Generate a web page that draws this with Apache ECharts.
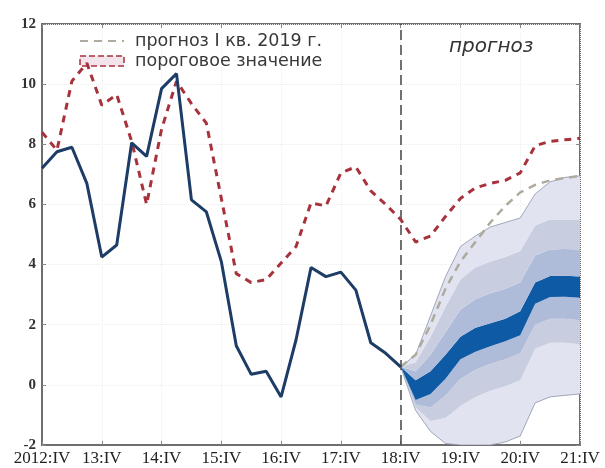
<!DOCTYPE html>
<html><head><meta charset="utf-8">
<script src="https://cdn.jsdelivr.net/npm/echarts@6/dist/echarts.min.js"></script>
<style>html,body{margin:0;padding:0;background:#fff}#c{width:605px;height:468px}</style>
</head><body><div id="c"></div>
<script>
// quarters 2012:IV .. 2021:IV
const categories = ['2012:IV',
 '13:I','13:II','13:III','13:IV',
 '14:I','14:II','14:III','14:IV',
 '15:I','15:II','15:III','15:IV',
 '16:I','16:II','16:III','16:IV',
 '17:I','17:II','17:III','17:IV',
 '18:I','18:II','18:III','18:IV',
 '19:I','19:II','19:III','19:IV',
 '20:I','20:II','20:III','20:IV',
 '21:I','21:II','21:III','21:IV'];
const yTicks = [-2, 0, 2, 4, 6, 8, 10, 12];
const forecastStart = '18:IV';

// actual values 2012:IV .. 18:IV
const actual = [7.2, 7.75, 7.9, 6.7, 4.25, 4.65, 8.05, 7.6, 9.85, 10.35, 6.15, 5.75, 4.1,
 1.3, 0.35, 0.45, -0.4, 1.5, 3.9, 3.6, 3.75, 3.15, 1.4, 1.05, 0.6];
// threshold 2012:IV .. 21:IV
const threshold = [8.4, 7.8, 10.1, 10.7, 9.3, 9.65, 8.1, 6.0, 8.5, 10.1, 9.35, 8.7, 6.2,
 3.7, 3.4, 3.5, 4.05, 4.6, 6.05, 5.95, 7.05, 7.25, 6.45, 6.0, 5.5,
 4.75, 4.95, 5.6, 6.2, 6.55, 6.7, 6.8, 7.05, 7.95, 8.1, 8.15, 8.2];
// forecast Q1 2019, 18:IV .. 21:IV
const forecastQ1 = [0.6, 1.0, 2.0, 3.2, 4.1, 4.75, 5.4, 5.95, 6.4, 6.65, 6.8, 6.88, 6.95];
// fan chart bounds, 18:IV .. 21:IV
const fanLo4 = [0.6, -0.85, -1.55, -1.95, -2.0, -2.0, -2.0, -1.9, -1.7, -0.6, -0.4, -0.35, -0.3];
const fanLo3 = [0.6, -0.75, -1.2, -1.1, -0.7, -0.4, -0.2, -0.05, 0.15, 1.2, 1.4, 1.4, 1.35];
const fanLo2 = [0.6, -0.65, -0.75, -0.35, 0.2, 0.5, 0.7, 0.85, 1.05, 2.0, 2.2, 2.2, 2.15];
const fanLo1 = [0.6, -0.5, -0.3, 0.2, 0.85, 1.1, 1.28, 1.45, 1.65, 2.7, 2.92, 2.93, 2.9];
const fanHi1 = [0.6, 0.15, 0.45, 1.0, 1.6, 1.9, 2.05, 2.2, 2.45, 3.4, 3.62, 3.63, 3.6];
const fanHi2 = [0.6, 0.45, 1.0, 1.75, 2.5, 2.85, 3.05, 3.2, 3.4, 4.3, 4.5, 4.52, 4.5];
const fanHi3 = [0.6, 0.75, 1.6, 2.6, 3.5, 3.9, 4.1, 4.25, 4.45, 5.3, 5.5, 5.5, 5.5];
const fanHi4 = [0.6, 1.0, 2.3, 3.6, 4.6, 4.95, 5.25, 5.4, 5.55, 6.35, 6.75, 6.9, 6.95];

const legendForecast = 'прогноз I кв. 2019 г.';
const legendThreshold = 'пороговое значение';
const forecastLabel = 'прогноз';

const offset = categories.indexOf(forecastStart);
const pad = arr => Array(offset).fill('-').concat(arr);
const diff = (lo, hi) => hi.map((v, i) => +(v - lo[i]).toFixed(3));

const bandColors = ['#e1e4f0', '#c9cde0', '#aebbd9', '#0f5aa5', '#aebbd9', '#c9cde0', '#e1e4f0'];
const bounds = [fanLo4, fanLo3, fanLo2, fanLo1, fanHi1, fanHi2, fanHi3, fanHi4];

const fanSeries = [{
  type: 'line', stack: 'fan', stackStrategy: 'all', data: pad(fanLo4), symbol: 'none', silent: true,
  lineStyle: { color: '#8d94aa', width: 0.8 }, z: 1
}];
for (let k = 0; k < 7; k++) {
  fanSeries.push({
    type: 'line', stack: 'fan', stackStrategy: 'all', data: pad(diff(bounds[k], bounds[k + 1])), symbol: 'none', silent: true,
    lineStyle: k === 6 ? { color: '#8d94aa', width: 0.8 } : { width: 0, opacity: 0 },
    areaStyle: { color: bandColors[k], opacity: 1 }, z: 1
  });
}

const chart = echarts.init(document.getElementById('c'), null, { renderer: 'canvas' });
chart.setOption({
  animation: false,
  backgroundColor: '#fff',
  title: {
    text: forecastLabel, left: 444, top: 32,
    textStyle: { fontFamily: 'DejaVu Sans', fontStyle: 'italic', fontWeight: 'normal', fontSize: 20, color: '#333' }
  },
  legend: {
    orient: 'vertical', left: 74, top: 27, itemWidth: 44, itemHeight: 10, itemGap: 2,
    textStyle: { fontFamily: 'DejaVu Sans', fontSize: 17.5, color: '#383838', padding: [0, 0, 0, 6] },
    data: [
      { name: legendForecast, itemStyle: { opacity: 0 } },
      { name: legendThreshold, icon: 'rect', itemStyle: { color: '#f3e3ea', borderColor: '#a8323c', borderWidth: 1.5, borderType: 'dashed' } }
    ]
  },
  grid: { left: 42, right: 25, top: 24, bottom: 23, show: true, borderColor: '#6e6e6e', borderWidth: 2 },
  xAxis: [{
    type: 'category', data: categories, boundaryGap: false,
    axisLine: { onZero: false, lineStyle: { color: '#6e6e6e', width: 2 } },
    axisTick: { inside: true, interval: 3, length: 4, lineStyle: { color: '#888' } },
    axisLabel: { interval: 3, margin: 5, fontFamily: 'Liberation Serif', fontSize: 17, color: '#222' },
    splitLine: { show: true, interval: 3, lineStyle: { color: '#eeeeee', type: 'dotted' } }
  }, {
    type: 'category', data: categories, boundaryGap: false, position: 'top',
    axisLine: { show: false, onZero: false },
    axisTick: { inside: true, interval: 3, length: 4, lineStyle: { color: '#888' } },
    axisLabel: { show: false }, splitLine: { show: false }
  }],
  yAxis: [{
    type: 'value', min: yTicks[0], max: yTicks[yTicks.length - 1], interval: 2,
    axisLine: { show: true, onZero: false, lineStyle: { color: '#6e6e6e', width: 2 } },
    axisTick: { show: true, inside: true, length: 4, lineStyle: { color: '#888' } },
    axisLabel: { margin: 6, fontFamily: 'Liberation Serif', fontWeight: 'bold', fontSize: 15, color: '#333' },
    splitLine: { show: true, lineStyle: { color: '#eeeeee', type: 'dotted' } }
  }, {
    type: 'value', min: yTicks[0], max: yTicks[yTicks.length - 1], interval: 2, position: 'right',
    axisLine: { show: false, onZero: false },
    axisTick: { show: true, inside: true, length: 4, lineStyle: { color: '#888' } },
    axisLabel: { show: false }, splitLine: { show: false }
  }],
  series: fanSeries.concat([
    {
      name: legendForecast, type: 'line', data: pad(forecastQ1), symbol: 'none', z: 4,
      lineStyle: { color: '#aeab9e', width: 2.5, type: [8, 6] },
      itemStyle: { color: '#aeab9e' }
    },
    {
      name: legendThreshold, type: 'line', data: threshold, symbol: 'none', z: 5,
      lineStyle: { color: '#a8323c', width: 3, type: [7, 6] },
      itemStyle: { color: '#a8323c' },
      markLine: {
        silent: true, symbol: 'none', label: { show: false },
        lineStyle: { color: '#444', width: 1.5, type: [10, 5] },
        data: [{ xAxis: forecastStart }]
      }
    },
    {
      name: 'actual', type: 'line', data: actual, symbol: 'none', z: 6,
      lineStyle: { color: '#1d3c66', width: 3 }, itemStyle: { color: '#1d3c66' }
    }
  ])
});
</script></body></html>
